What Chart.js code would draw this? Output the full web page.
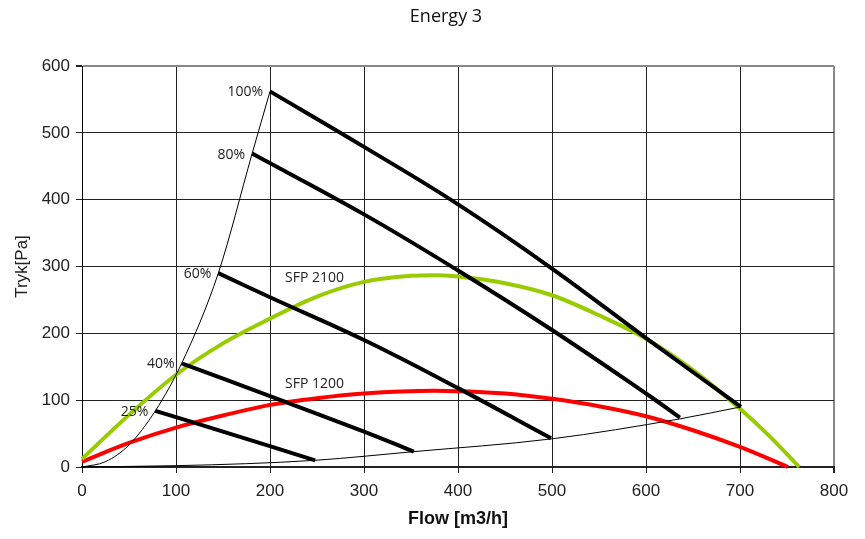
<!DOCTYPE html>
<html><head><meta charset="utf-8">
<script src="https://cdn.jsdelivr.net/npm/chart.js@4.4.0/dist/chart.umd.min.js"></script>
<style>html,body{margin:0;padding:0;background:#fff}</style>
</head><body>
<canvas id="c" width="865" height="539"></canvas>
<script>
// ---- data ----
const chartTitle = 'Energy 3';
const xTitle = 'Flow [m3/h]';
const yTitle = 'Tryk[Pa]';
const xMin = 0, xMax = 800, xStep = 100;
const yMin = 0, yMax = 600, yStep = 100;

// SFP 2100 curve (green)
const sfp2100Flow = [0, 50, 100, 150, 200, 250, 300, 350, 375, 400, 450, 500, 550, 600, 650, 700, 730, 763];
const sfp2100Pres = [12, 78, 138, 185, 222, 255, 277, 286, 287, 285, 275, 257, 227, 192, 145, 87, 48, 0];

// SFP 1200 curve (red)
const sfp1200Flow = [0, 50, 100, 150, 200, 250, 300, 375, 450, 500, 550, 600, 650, 700, 751];
const sfp1200Pres = [8, 36, 59, 77, 93, 103, 110, 114, 110, 102, 91, 76, 55, 30, 0];

// steep system curve (thin)
const sysHighFlow = [0, 25, 50, 78, 106, 145, 181, 200];
const sysHighPres = [0, 8, 33, 84, 155, 290, 469, 562];

// flat system curve (thin)
const sysLowFlow = [0, 100, 175, 248, 353, 499, 636, 701];
const sysLowPres = [0, 2, 5, 10, 23, 42, 72, 90];

// fan speed curves
const speedLabels = ['100%', '80%', '60%', '40%', '25%'];
const speed100Flow = [200, 300, 400, 500, 600, 701];
const speed100Pres = [562, 479, 393, 297, 193, 90];
const speed80Flow = [181, 300, 400, 500, 600, 636];
const speed80Pres = [469, 378, 294, 205, 110, 74];
const speed60Flow = [145, 200, 300, 400, 499];
const speed60Pres = [290, 254, 190, 118, 43];
const speed40Flow = [106, 200, 300, 353];
const speed40Pres = [155, 106, 53, 23];
const speed25Flow = [78, 150, 248];
const speed25Pres = [84, 53, 10];
const speedFlows = [speed100Flow, speed80Flow, speed60Flow, speed40Flow, speed25Flow];
const speedPres = [speed100Pres, speed80Pres, speed60Pres, speed40Pres, speed25Pres];

// SFP curve labels (anchor in data units)
const sfpLabels = ['SFP 2100', 'SFP 1200'];
const sfpLabelFlow = [216, 216];
const sfpLabelPres = [283, 124];

// ---- build datasets ----
const pts = (xs, ys) => xs.map((x, i) => ({x: x, y: ys[i]}));

const datasets = [];
speedLabels.forEach((lab, i) => {
  datasets.push({
    label: lab,
    data: pts(speedFlows[i], speedPres[i]),
    borderColor: '#000', borderWidth: 4, showLine: true, pointRadius: 0,
    tension: 0.4, order: 0, clip: false
  });
});
datasets.push({label: 'sysHigh', data: pts(sysHighFlow, sysHighPres), borderColor: '#000', borderWidth: 1,
  showLine: true, pointRadius: 0, cubicInterpolationMode: 'monotone', order: 1, clip: false});
datasets.push({label: 'sysLow', data: pts(sysLowFlow, sysLowPres), borderColor: '#000', borderWidth: 1,
  showLine: true, pointRadius: 0, cubicInterpolationMode: 'monotone', order: 1, clip: false});
datasets.push({label: 'SFP 2100', data: pts(sfp2100Flow, sfp2100Pres), borderColor: '#99cc00', borderWidth: 4,
  showLine: true, pointRadius: 0, cubicInterpolationMode: 'monotone', order: 2, clip: false});
datasets.push({label: 'SFP 1200', data: pts(sfp1200Flow, sfp1200Pres), borderColor: '#ff0000', borderWidth: 4,
  showLine: true, pointRadius: 0, cubicInterpolationMode: 'monotone', order: 2, clip: false});

const labelPlugin = {
  id: 'labels',
  afterDatasetsDraw(chart) {
    const ctx = chart.ctx;
    const xs = chart.scales.x, ys = chart.scales.y;
    ctx.save();
    ctx.fillStyle = '#222';
    ctx.font = '14px "Open Sans", "Noto Sans", sans-serif';
    ctx.textBaseline = 'middle';
    ctx.textAlign = 'right';
    speedLabels.forEach((lab, i) => {
      ctx.fillText(lab, xs.getPixelForValue(speedFlows[i][0]) - 7, ys.getPixelForValue(speedPres[i][0]) + 1);
    });
    ctx.textAlign = 'left';
    sfpLabels.forEach((lab, i) => {
      ctx.fillText(lab, xs.getPixelForValue(sfpLabelFlow[i]), ys.getPixelForValue(sfpLabelPres[i]));
    });
    ctx.restore();
  },
  afterDraw(chart) {
    const ctx = chart.ctx;
    ctx.save();
    ctx.fillStyle = '#111';
    ctx.font = '18px "Open Sans", "Noto Sans", sans-serif';
    ctx.textAlign = 'center';
    ctx.textBaseline = 'alphabetic';
    ctx.fillText(chartTitle, 446, 22);
    ctx.restore();
  }
};

new Chart(document.getElementById('c'), {
  type: 'scatter',
  data: {datasets: datasets},
  plugins: [labelPlugin],
  options: {
    responsive: false,
    animation: false,
    devicePixelRatio: 1,
    layout: {padding: {top: 66, right: 31, bottom: 0, left: 0}},
    plugins: {legend: {display: false}, tooltip: {enabled: false}, title: {display: false}},
    scales: {
      x: {
        type: 'linear', min: xMin, max: xMax,
        ticks: {stepSize: xStep, color: '#222', padding: 8, font: {family: 'Liberation Sans, Arial, sans-serif', size: 17}},
        grid: {
          color: c => c.tick && c.tick.value === xMax ? '#888' : '#222',
          lineWidth: c => c.tick && c.tick.value === xMax ? 2 : 1,
          tickLength: 6, tickColor: '#222'
        },
        border: {color: '#222', width: 2},
        title: {display: true, text: xTitle, color: '#111', padding: {top: 0, bottom: 9},
          font: {family: 'Liberation Sans, Arial, sans-serif', size: 18, weight: 'bold'}},
        afterFit: s => { s.height = 72; }
      },
      y: {
        type: 'linear', min: yMin, max: yMax,
        ticks: {stepSize: yStep, color: '#222', padding: 6, font: {family: 'Liberation Sans, Arial, sans-serif', size: 17}},
        grid: {
          color: c => c.tick && c.tick.value === yMax ? '#888' : '#222',
          lineWidth: c => c.tick && c.tick.value === yMax ? 2 : 1,
          tickLength: 6, tickColor: '#222'
        },
        border: {color: '#000', width: 1},
        title: {display: true, text: yTitle, color: '#222', padding: {top: 12, bottom: 0},
          font: {family: 'Liberation Sans, Arial, sans-serif', size: 17}},
        afterFit: s => { s.width = 82; }
      }
    }
  }
});
</script>
</body></html>
